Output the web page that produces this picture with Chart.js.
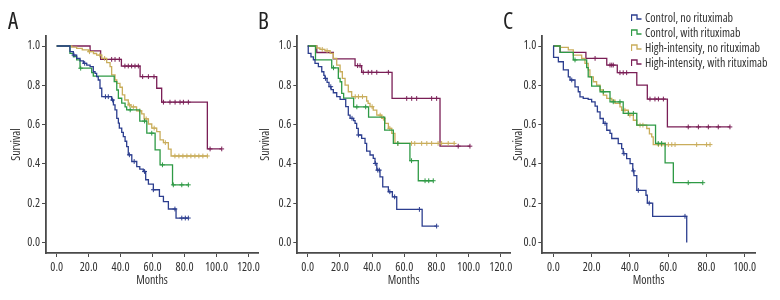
<!DOCTYPE html>
<html>
<head>
<meta charset="utf-8">
<script src="https://cdn.jsdelivr.net/npm/chart.js@4.4.1/dist/chart.umd.min.js"></script>
<style>
  body { margin: 0; background: #fff; }
  #wrap { position: relative; width: 780px; height: 300px; overflow: hidden;
          font-family: 'Open Sans', sans-serif; font-stretch: condensed; color: #333; }
  canvas { position: absolute; top: 0; }
  .letter { position: absolute; font-size: 23px; line-height: 23px; color: #222; font-stretch: condensed; }
  #legend { position: absolute; left: 631px; top: 10px; font-size: 12px; }
  #legend div { height: 15px; display: flex; align-items: center; white-space: nowrap; }
  #legend svg { margin-right: 3px; }
</style>
</head>
<body>
<div id="wrap">
  <canvas id="cA" width="275" height="300" style="left:0px"></canvas>
  <canvas id="cB" width="275" height="300" style="left:250px"></canvas>
  <canvas id="cC" width="280" height="300" style="left:500px"></canvas>
  <div class="letter" style="left:8px;top:9px">A</div>
  <div class="letter" style="left:258px;top:9px">B</div>
  <div class="letter" style="left:503px;top:9px">C</div>
  <div id="legend"></div>
</div>
<script>
// groups and colours
const groups = ['Control, no rituximab', 'Control, with rituximab', 'High-intensity, no rituximab', 'High-intensity, with rituximab'];
const colors = ['#2c3e8f', '#2e9a45', '#c9ad5b', '#7a1e56'];

// [months, survival] after each step, and censored months
// Panel A
const aCtrlNo = [[0,1],[8.3,0.971],[10.4,0.954],[12.5,0.937],[14.6,0.924],[16.7,0.912],[18.8,0.903],[20.9,0.895],[22.9,0.869],[24.0,0.861],[25.0,0.844],[26.0,0.827],[27.1,0.785],[28.2,0.742],[34.4,0.725],[35.5,0.700],[36.5,0.675],[37.6,0.632],[38.6,0.607],[39.2,0.582],[40.7,0.560],[41.7,0.539],[42.8,0.515],[43.8,0.488],[44.8,0.446],[47.0,0.412],[50.1,0.386],[52.0,0.373],[54.2,0.361],[55.7,0.319],[57.4,0.297],[60.5,0.268],[64.3,0.234],[66.8,0.208],[69.9,0.170],[74.7,0.124]];
const aCtrlNoCens = [10.8, 17.5, 30.5, 32.3, 35.0, 45.5, 48.5, 55.0, 60.5, 74.0, 78.3, 80.5, 82.4];
const aCtrlRx = [[0,1],[8.3,0.963],[10.4,0.946],[12.5,0.929],[14.6,0.887],[21.9,0.864],[22.9,0.847],[36.0,0.819],[37.6,0.776],[38.6,0.734],[40.7,0.709],[42.8,0.690],[43.8,0.675],[52.0,0.618],[56.4,0.556],[61.6,0.471],[64.7,0.395],[72.5,0.293]];
const aCtrlRxCens = [15.0, 46.0, 55.0, 59.5, 66.2, 73.0, 78.3, 82.4];
const aHiNo = [[0,1],[9.4,0.994],[12.5,0.988],[16.0,0.980],[19.8,0.971],[23.0,0.962],[25.0,0.954],[28.2,0.937],[31.3,0.915],[33.4,0.895],[34.4,0.853],[36.5,0.827],[37.6,0.810],[39.6,0.790],[41.1,0.751],[42.6,0.725],[44.8,0.700],[46.5,0.690],[50.0,0.670],[53.2,0.654],[54.7,0.629],[57.4,0.603],[59.5,0.582],[62.6,0.564],[64.7,0.522],[66.8,0.508],[69.9,0.475],[71.6,0.440]];
const aHiNoCens = [20.5, 27.0, 30.0, 45.5, 48.0, 52.0, 56.0, 61.0, 68.0, 74.0, 76.5, 79.0, 81.5, 84.0, 86.5, 89.0, 91.5, 94.3];
const aHiRx = [[0,1],[20.9,0.975],[27.5,0.932],[40.5,0.898],[52.2,0.844],[62.6,0.785],[65.7,0.714],[94.3,0.476]];
const aHiRxCens = [34.4, 36.5, 39.2, 42.7, 44.8, 46.9, 49.0, 51.1, 53.8, 57.4, 60.9, 66.8, 70.9, 74.1, 77.2, 79.3, 82.4, 96.0, 103.3];

// Panel B
const bCtrlNo = [[0,1],[0.3,0.963],[2.0,0.945],[3.5,0.930],[4.5,0.912],[6.6,0.895],[8.7,0.869],[10.0,0.850],[10.7,0.835],[12.0,0.815],[13.2,0.793],[14.5,0.778],[15.9,0.762],[18.0,0.742],[20.1,0.728],[23.6,0.691],[25.2,0.648],[26.3,0.632],[28.5,0.620],[29.4,0.606],[30.4,0.581],[31.4,0.547],[33.5,0.530],[35.6,0.504],[36.6,0.465],[38.7,0.445],[40.7,0.428],[41.8,0.402],[42.9,0.368],[44.9,0.334],[46.6,0.283],[50.1,0.258],[52.6,0.232],[55.3,0.168],[71.1,0.083]];
const bCtrlNoCens = [11.0, 14.3, 27.5, 31.5, 42.0, 43.5, 44.5, 51.0, 54.0, 69.4, 80.1];
const bCtrlRx = [[0,1],[4.8,0.929],[14.9,0.889],[19.0,0.835],[20.1,0.818],[21.1,0.759],[22.3,0.735],[28.5,0.690],[37.8,0.638],[47.8,0.572],[53.2,0.504],[63.5,0.416],[68.7,0.314]];
const bCtrlRxCens = [16.0, 30.5, 36.0, 56.0, 64.5, 72.9, 75.2, 78.0];
const bHiNo = [[0,1],[5.6,0.990],[7.6,0.983],[10.7,0.976],[13.9,0.963],[15.9,0.937],[18.0,0.903],[20.1,0.869],[21.5,0.835],[23.2,0.801],[25.2,0.767],[27.3,0.742],[36.6,0.720],[37.5,0.708],[38.7,0.691],[40.7,0.674],[42.9,0.648],[46.0,0.632],[48.0,0.606],[50.1,0.581],[52.2,0.555],[54.2,0.504]];
const bHiNoCens = [9.0, 12.0, 29.5, 31.5, 34.0, 40.0, 45.0, 47.0, 51.0, 56.0, 64.5, 66.5, 70.8, 74.0, 77.0, 81.0, 83.2, 87.3, 91.0];
const bHiRx = [[0,1],[5.6,0.967],[15.9,0.935],[29.4,0.900],[33.5,0.866],[52.4,0.733],[82.2,0.490]];
const bHiRxCens = [31.0, 32.5, 34.5, 37.6, 39.8, 42.9, 50.1, 61.5, 64.6, 67.7, 77.0, 80.1, 93.5, 100.8];

// Panel C
const cCtrlNo = [[0,1],[0.1,0.942],[2.6,0.920],[5.2,0.878],[7.8,0.843],[8.7,0.827],[11.3,0.792],[13.0,0.767],[13.9,0.741],[15.6,0.733],[18.2,0.728],[20.0,0.716],[21.8,0.694],[23.0,0.665],[24.4,0.631],[26.1,0.606],[27.9,0.571],[29.6,0.555],[30.5,0.529],[33.9,0.503],[35.7,0.478],[36.5,0.452],[38.3,0.427],[40.1,0.401],[41.5,0.364],[42.1,0.340],[43.6,0.265],[48.4,0.240],[49.1,0.200],[51.9,0.133],[69.7,0]];
const cCtrlNoCens = [9.6, 27.0, 36.9, 41.8, 44.4, 50.1, 68.8];
const cCtrlRx = [[0,1],[3.5,0.968],[10.4,0.929],[17.4,0.890],[18.2,0.843],[20.0,0.796],[24.4,0.767],[29.6,0.716],[36.5,0.657],[43.6,0.597],[53.4,0.504],[58.4,0.405],[62.7,0.304]];
const cCtrlRxCens = [11.3, 26.1, 31.3, 34.8, 39.2, 41.8, 54.8, 56.6, 70.5, 78.1];
const cHiNo = [[0,1],[3.5,0.993],[7.8,0.980],[10.4,0.954],[14.8,0.937],[16.5,0.912],[18.2,0.878],[19.1,0.843],[20.9,0.818],[22.6,0.801],[24.4,0.776],[26.1,0.750],[27.9,0.733],[30.5,0.724],[32.2,0.708],[34.8,0.690],[35.7,0.673],[39.2,0.648],[41.8,0.622],[43.6,0.597],[48.8,0.580],[50.2,0.553],[51.4,0.537],[52.2,0.498]];
const cHiNoCens = [37.4, 40.0, 45.3, 46.8, 54.9, 56.6, 58.4, 60.1, 61.9, 63.6, 74.9, 80.1, 81.9];
const cHiRx = [[0,1],[3.5,0.968],[17.0,0.937],[27.9,0.903],[33.4,0.864],[43.6,0.801],[49.1,0.730],[59.6,0.588]];
const cHiRxCens = [21.8, 29.6, 30.5, 31.3, 34.8, 36.5, 38.3, 50.5, 53.1, 54.9, 57.5, 70.5, 75.8, 81.0, 86.2, 92.3];

const xTicksAB = [0, 20, 40, 60, 80, 100, 120];
const xTicksC = [0, 20, 40, 60, 80, 100];
const yTicks = [0, 0.2, 0.4, 0.6, 0.8, 1.0];

// 'condensed' goes in the weight slot so the canvas font string picks the narrow width of Open Sans
const FONT = { family: "'Open Sans', sans-serif", size: 12, weight: 'condensed' };
const TXT = '#333';
const AXIS = '#4a4a4a';

function level(steps, t) {
    let s = steps[0][1];
    for (const p of steps) { if (p[0] <= t) s = p[1]; }
    return s;
}

function curveSets(curves) {
    let sets = [];
    curves.forEach(function(c, i) {
        let last = c.steps[c.steps.length - 1];
        let end = Math.max(last[0], c.cens.length ? c.cens[c.cens.length - 1] : 0);
        let pts = c.steps.map(p => ({x: p[0], y: p[1]}));
        if (end > last[0]) pts.push({x: end, y: last[1]});
        sets.push({
            data: pts, borderColor: colors[i], borderWidth: 1.3,
            stepped: true, pointRadius: 0, fill: false
        });
        sets.push({
            data: c.cens.map(t => ({x: t, y: level(c.steps, t)})),
            showLine: false, pointStyle: 'cross', pointRadius: 2.4,
            pointBorderWidth: 1, pointBorderColor: colors[i], borderColor: colors[i]
        });
    });
    return sets;
}

function makePanel(id, p, curves) {
    let ctx = document.getElementById(id).getContext('2d');
    new Chart(ctx, {
        type: 'line',
        data: { datasets: curveSets(curves) },
        options: {
            responsive: false,
            animation: false,
            devicePixelRatio: 1,
            layout: { padding: { left: 0, right: p.padRight, top: 36, bottom: 0 } },
            plugins: { legend: { display: false }, tooltip: { enabled: false } },
            scales: {
                x: {
                    type: 'linear', min: p.xMin, max: p.xMax,
                    afterBuildTicks: s => { s.ticks = p.xTicks.map(v => ({value: v})); },
                    afterFit: s => { s.height = 47; },
                    grid: { drawOnChartArea: false, drawTicks: true, tickLength: 4, color: AXIS },
                    border: { display: true, color: AXIS, width: 1.8 },
                    ticks: { callback: v => v.toFixed(1), font: FONT, color: TXT, padding: 3, maxRotation: 0, autoSkip: false },
                    title: { display: true, text: 'Months', font: FONT, color: TXT, padding: { top: 0, bottom: 12 } }
                },
                y: {
                    type: 'linear', min: -0.054, max: 1.051,
                    afterBuildTicks: s => { s.ticks = yTicks.map(v => ({value: v})); },
                    afterFit: s => { s.width = p.yW; },
                    grid: { drawOnChartArea: false, drawTicks: true, tickLength: 4, color: AXIS },
                    border: { display: true, color: AXIS, width: 1.8 },
                    ticks: { callback: v => v.toFixed(1), font: FONT, color: TXT, padding: 2 },
                    title: { display: true, text: 'Survival', font: FONT, color: TXT, padding: { top: p.titlePad, bottom: 0 } }
                }
            }
        }
    });
}

makePanel('cA', { yW: 46, padRight: 17, xMin: -6.7, xMax: 126, xTicks: xTicksAB, titlePad: 9.3 }, [
    { steps: aCtrlNo, cens: aCtrlNoCens }, { steps: aCtrlRx, cens: aCtrlRxCens },
    { steps: aHiNo, cens: aHiNoCens }, { steps: aHiRx, cens: aHiRxCens }
]);
makePanel('cB', { yW: 47.3, padRight: 15, xMin: -6.5, xMax: 125.7, xTicks: xTicksAB, titlePad: 8.8 }, [
    { steps: bCtrlNo, cens: bCtrlNoCens }, { steps: bCtrlRx, cens: bCtrlRxCens },
    { steps: bHiNo, cens: bHiNoCens }, { steps: bHiRx, cens: bHiRxCens }
]);
makePanel('cC', { yW: 42.3, padRight: 25, xMin: -5.8, xMax: 105.4, xTicks: xTicksC, titlePad: 11.8 }, [
    { steps: cCtrlNo, cens: cCtrlNoCens }, { steps: cCtrlRx, cens: cCtrlRxCens },
    { steps: cHiNo, cens: cHiNoCens }, { steps: cHiRx, cens: cHiRxCens }
]);

// legend
let lg = document.getElementById('legend');
groups.forEach(function(g, i) {
    let row = document.createElement('div');
    row.innerHTML = '<svg width="11" height="9"><path d="M0.5 8 V2 H6 V6 H10.5" fill="none" stroke="' + colors[i] + '" stroke-width="1.3"/></svg>';
    let sp = document.createElement('span');
    sp.textContent = g;
    row.appendChild(sp);
    lg.appendChild(row);
});
</script>
</body>
</html>
